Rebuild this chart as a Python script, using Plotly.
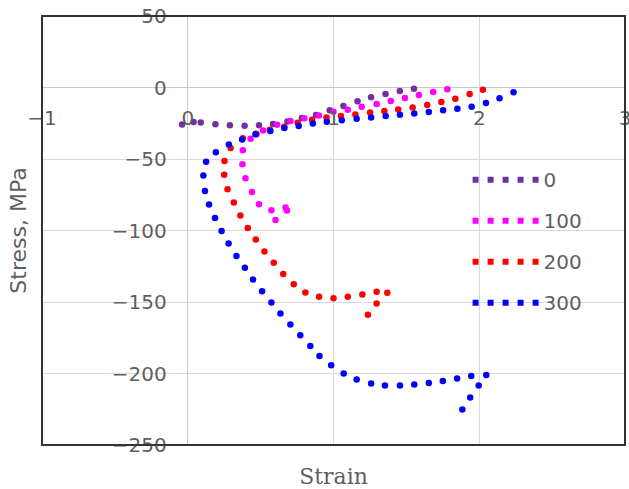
import plotly.graph_objects as go

# ---- data (strain, stress MPa) ----
names = ["0", "100", "200", "300"]
colors = ["#7030A0", "#FF00FF", "#FF0000", "#0000FF"]

x0 = [-0.039, 0.040, 0.089, 0.19, 0.289, 0.390, 0.489, 0.585, 0.684, 0.783, 0.880, 0.974,
      1.068, 1.165, 1.258, 1.357, 1.455, 1.552]
y0 = [-25.9, -24.1, -24.5, -25.7, -26.4, -26.7, -26.4, -25.5, -23.7, -21.3, -19.2, -15.9,
      -12.9, -9.6, -6.9, -4.5, -2.4, -0.8]

x100 = [1.781, 1.684, 1.586, 1.490, 1.393, 1.296, 1.193, 1.098, 1.000, 0.900, 0.800, 0.704,
        0.613, 0.517, 0.472, 0.431, 0.378, 0.375, 0.396, 0.441, 0.489, 0.574, 0.602, 0.681, 0.671]
y100 = [-1.2, -3.1, -5.2, -7.4, -9.5, -11.6, -13.5, -15.6, -17.0, -19.5, -21.5, -23.4,
        -26.0, -30.0, -32.7, -35.8, -43.9, -53.7, -63.4, -73.0, -81.6, -85.8, -92.7, -86.1, -84.0]

x200 = [2.025, 1.934, 1.836, 1.740, 1.643, 1.543, 1.444, 1.349, 1.251, 1.150, 1.051, 0.952,
        0.853, 0.754, 0.662, 0.563, 0.467, 0.378, 0.294, 0.252, 0.250, 0.273, 0.316, 0.361,
        0.412, 0.467, 0.526, 0.590, 0.655, 0.727, 0.807, 0.901, 1.000, 1.098, 1.198, 1.296,
        1.369, 1.296, 1.236]
y200 = [-1.5, -4.6, -7.8, -10.2, -12.2, -14.0, -15.4, -16.4, -17.5, -18.9, -19.9, -20.9,
        -22.5, -24.6, -27.4, -29.5, -32.3, -35.5, -42.3, -51.4, -61.1, -71.2, -80.5, -89.5,
        -98.2, -106.3, -114.6, -122.6, -130.4, -137.5, -143.4, -146.4, -147.3, -146.4, -144.8,
        -142.9, -143.5, -151.0, -159.0]

x300 = [2.235, 2.139, 2.046, 1.948, 1.850, 1.752, 1.654, 1.554, 1.456, 1.358, 1.258, 1.159,
        1.057, 0.954, 0.858, 0.761, 0.663, 0.567, 0.465, 0.373, 0.282, 0.193, 0.126, 0.107,
        0.118, 0.146, 0.187, 0.232, 0.280, 0.334, 0.392, 0.448, 0.510, 0.574, 0.636, 0.704,
        0.772, 0.841, 0.904, 0.984, 1.070, 1.159, 1.258, 1.353, 1.456, 1.554, 1.654, 1.750,
        1.848, 1.945, 2.048, 1.996, 1.938, 1.884]
y300 = [-3.4, -7.6, -10.8, -13.4, -14.9, -15.9, -17.2, -18.2, -19.0, -19.9, -20.9, -21.8,
        -22.9, -24.0, -25.2, -26.9, -28.3, -30.4, -32.7, -36.4, -39.9, -45.3, -51.9, -61.6,
        -72.3, -81.8, -91.2, -100.3, -109.1, -117.8, -126.0, -134.3, -142.5, -150.4, -158.1,
        -165.8, -173.2, -180.7, -187.7, -194.2, -200.0, -204.2, -207.0, -208.4, -208.4, -207.7,
        -206.6, -205.2, -203.5, -201.7, -201.0, -208.4, -216.8, -225.2]

xs = [x0, x100, x200, x300]
ys = [y0, y100, y200, y300]

x_range = [-1, 3]
y_range = [-250, 50]
x_title = "Strain"
y_title = "Stress, MPa"

tick_font = dict(family="DejaVu Sans", size=20, color="#5f5f5f")
grid_color = "#d9d9d9"

fig = go.Figure()
for name, color, x, y in zip(names, colors, xs, ys):
    fig.add_trace(go.Scatter(
        x=x, y=y, mode="markers", name=name, legendgroup=name, showlegend=False,
        marker=dict(color=color, size=6.5, line=dict(width=0)),
    ))
# legend proxies: dotted marker line like the original legend keys
for name, color in zip(names, colors):
    fig.add_trace(go.Scatter(
        x=[None], y=[None], mode="lines", name=name, legendgroup=name, showlegend=True,
        line=dict(color=color, width=6, dash="6px,9px"),
    ))

# helper axes carrying tick labels at the zero crossings
fig.add_trace(go.Scatter(x=[None], y=[None], xaxis="x2", yaxis="y2", showlegend=False,
                         hoverinfo="skip"))

fig.update_layout(
    width=629, height=489,
    margin=dict(l=42, r=4, t=16, b=44, autoexpand=False),
    paper_bgcolor="white", plot_bgcolor="white",
    xaxis=dict(range=x_range, dtick=1, showgrid=True, gridcolor=grid_color, gridwidth=1,
               zeroline=True, zerolinecolor="#c8c8c8", zerolinewidth=1,
               showticklabels=False, ticks="", showline=False, automargin=False,
               title=dict(text=x_title, standoff=24,
                          font=dict(family="DejaVu Serif", size=22, color="#5f5f5f"))),
    yaxis=dict(range=y_range, dtick=50, showgrid=True, gridcolor=grid_color, gridwidth=1,
               zeroline=True, zerolinecolor="#c8c8c8", zerolinewidth=1,
               showticklabels=False, ticks="", showline=False, automargin=False,
               title=dict(text=y_title, standoff=8,
                          font=dict(family="DejaVu Sans", size=22, color="#5f5f5f"))),
    xaxis2=dict(range=x_range, dtick=1, overlaying="x", anchor="free", position=0.8333,
                side="bottom", showgrid=False, zeroline=False, showline=False, ticks="",
                tickfont=tick_font, ticklabelstandoff=16, ticklabeloverflow="allow",
                automargin=False),
    yaxis2=dict(range=y_range, dtick=50, overlaying="y", anchor="free", position=0.25,
                side="left", showgrid=False, zeroline=False, showline=False, ticks="",
                tickfont=tick_font, ticklabelstandoff=21, ticklabeloverflow="allow",
                automargin=False),
    legend=dict(x=0.73, y=0.664, xanchor="left", yanchor="top",
                bgcolor="rgba(0,0,0,0)", font=dict(family="DejaVu Sans", size=20, color="#5f5f5f"),
                traceorder="grouped", tracegroupgap=12, itemwidth=66),
    shapes=[dict(type="rect", xref="paper", yref="paper", x0=0, y0=0, x1=1, y1=1,
                 line=dict(color="#333333", width=2), fillcolor="rgba(0,0,0,0)", layer="above")],
    showlegend=True,
)

fig.write_html("out.html")
